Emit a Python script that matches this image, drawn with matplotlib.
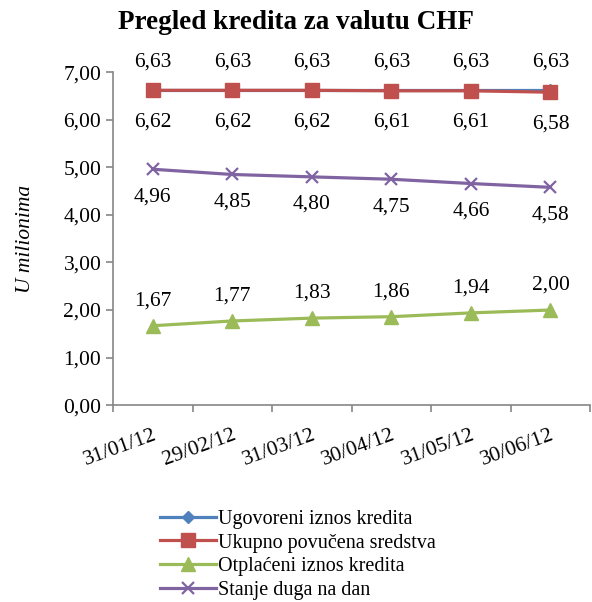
import matplotlib.pyplot as plt

dates = ['31/01/12', '29/02/12', '31/03/12', '30/04/12', '31/05/12', '30/06/12']
ugovoreni = [6.63, 6.63, 6.63, 6.63, 6.63, 6.63]
povucena = [6.62, 6.62, 6.62, 6.61, 6.61, 6.58]
otplaceni = [1.67, 1.77, 1.83, 1.86, 1.94, 2.00]
stanje = [4.96, 4.85, 4.80, 4.75, 4.66, 4.58]

plt.rcParams['font.family'] = ['Liberation Serif', 'DejaVu Serif']

fig = plt.figure(figsize=(5.92, 6.02), dpi=100)
ax = fig.add_axes([0.191, 0.327, 0.806, 0.553])

x = [i + 0.5 for i in range(len(dates))]
lw = 2.3
ax.plot(x, ugovoreni, color='#4F81BD', lw=lw, marker='D', ms=6, label='Ugovoreni iznos kredita')
ax.plot(x, povucena, color='#C0504D', lw=lw, marker='s', ms=9.5, label='Ukupno povučena sredstva')
ax.plot(x, otplaceni, color='#9BBB59', lw=lw, marker='^', ms=10, label='Otplaćeni iznos kredita')
ax.plot(x, stanje, color='#8064A2', lw=lw, marker='x', ms=9, mew=1.6, label='Stanje duga na dan')

def fmt(v):
    return f'{v:.2f}'.replace('.', ',')

fs = 15.5
for xi, v in zip(x, ugovoreni):
    ax.annotate(fmt(v), (xi, v), xytext=(0, 13), textcoords='offset points', ha='center', va='bottom', fontsize=fs)
for xi, v in zip(x, povucena):
    ax.annotate(fmt(v), (xi, v), xytext=(0, -16), textcoords='offset points', ha='center', va='top', fontsize=fs)
for xi, v in zip(x, stanje):
    ax.annotate(fmt(v), (xi, v), xytext=(0, -13), textcoords='offset points', ha='center', va='top', fontsize=fs)
for xi, v in zip(x, otplaceni):
    ax.annotate(fmt(v), (xi, v), xytext=(0, 11), textcoords='offset points', ha='center', va='bottom', fontsize=fs)

ax.set_xlim(0, len(dates))
ax.set_ylim(0, 7)
ax.set_yticks([0, 1, 2, 3, 4, 5, 6, 7])
ax.set_yticklabels([fmt(v) for v in range(8)], fontsize=fs)
ax.set_xticks(range(len(dates) + 1))
ax.set_xticklabels([])
ax.set_xticks(x, minor=True)
ax.set_xticklabels(dates, minor=True, rotation=20, ha='right', rotation_mode='anchor', fontsize=fs)
ax.tick_params(axis='x', which='minor', length=0, pad=15)
ax.tick_params(axis='both', which='major', length=5, color='#868686', direction='out', width=1.2)
for s in ['top', 'right']:
    ax.spines[s].set_visible(False)
for s in ['left', 'bottom']:
    ax.spines[s].set_color('#868686')
    ax.spines[s].set_linewidth(1.2)

ax.set_ylabel('U milionima', fontsize=fs, style='italic', labelpad=20)
fig.text(0.5, 0.962, 'Pregled kredita za valutu CHF', ha='center', va='center', fontsize=19.5, fontweight='bold')

fig.legend(loc='upper left', bbox_to_anchor=(0.27, 0.153), ncol=1, frameon=False, fontsize=14.5,
           handlelength=2.8, handletextpad=0.1, labelspacing=0.22, borderaxespad=0, borderpad=0)

fig.savefig('out.png', dpi=100)
